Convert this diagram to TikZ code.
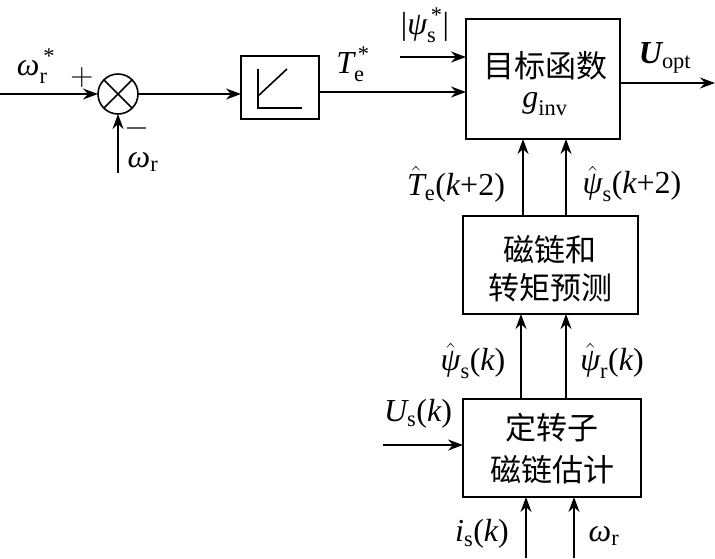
\documentclass[tikz,border=0pt]{standalone}
\usepackage{fix-cm}
\usepackage{amsmath}
\usepackage{fontspec}
\setmainfont{Liberation Serif}
\newfontfamily\cjk{Noto Sans CJK SC}
\usetikzlibrary{arrows.meta,calc}
\newcommand{\vi}[1]{\text{\itshape #1}}
\newcommand{\vu}[1]{\text{#1}}
\begin{document}
\begin{tikzpicture}[x=1pt,y=-1pt,
  line width=1.6pt,
  every node/.style={inner sep=0pt,outer sep=0pt,font=\fontsize{32}{38}\selectfont},
  blk/.style={draw,rectangle,line width=1.6pt},
  cjkt/.style={font=\cjk\fontsize{31}{36}\selectfont},
  arr/.style={-{Stealth[length=15pt,width=11pt]}}]
\useasboundingbox (0,0) rectangle (715,558);
% blocks
\node[draw,circle,minimum size=40pt] (sum) at (118,94) {};
\node[blk,minimum width=78pt,minimum height=63pt] (pi) at (280,87.5) {};
\node[blk,minimum width=154pt,minimum height=120pt] (obj) at (543,79) {};
\node[blk,minimum width=175pt,minimum height=98pt] (pred) at (550.5,265) {};
\node[blk,minimum width=178pt,minimum height=98pt] (est) at (552,448) {};
% sum cross
\draw ($(sum.center)+(-14.1,-14.1)$) -- ($(sum.center)+(14.1,14.1)$);
\draw ($(sum.center)+(-14.1,14.1)$) -- ($(sum.center)+(14.1,-14.1)$);
% PI symbol
\draw (258,69) -- (258,108) -- (302,108);
\draw (258,96) -- (287,69);
% free ends
\coordinate (in1) at (0,94);
\coordinate (wr) at (118,173);
\coordinate (psiin) at (400,57);
\coordinate (uout) at (715,83);
\coordinate (usin) at (383,445);
\coordinate (isin) at (526,558);
\coordinate (wrin) at (574,558);
% connectors
\draw[arr] (in1) -- (sum.west);
\draw[arr] (wr) -- (sum.south);
\draw[arr] (sum.east) -- (sum.east -| pi.west);
\draw[arr] (pi.east |- 0,92) -- (obj.west |- 0,92);
\draw[arr] (psiin) -- (psiin -| obj.west);
\draw[arr] (obj.east |- uout) -- (uout);
\draw[arr] (pred.north -| 523,0) -- (obj.south -| 523,0);
\draw[arr] (pred.north -| 566,0) -- (obj.south -| 566,0);
\draw[arr] (est.north -| 521,0) -- (pred.south -| 521,0);
\draw[arr] (est.north -| 566,0) -- (pred.south -| 566,0);
\draw[arr] (usin) -- (usin -| est.west);
\draw[arr] (isin) -- (isin |- est.south);
\draw[arr] (wrin) -- (wrin |- est.south);
% labels
\node (l1) at (36,66) {$\vi{ω}_{\vu{r}}^{\,\vu{*}}$};
\node (lp) at (82,77) {$+$};
\node (lm) at (137,128) {$-$};
\node (l2) at (143,162) {$\vi{ω}_{\vu{r}}$};
\node (l3) at (353,64) {$\vi{T}_{\vu{e}}^{\,\vu{*}}$};
\node (l4) at (425,25) {$\vu{|}\vi{ψ}_{\vu{s}}^{\,\vu{*}}\vu{|}$};
\node (l5) at (665,58) {$\text{\bfseries\itshape U}_{\vu{opt}}$};
\node[cjkt] (t1) at (545,66) {目标函数};
\node (t2) at (545,104) {$\vi{g}_{\vu{inv}}$};
\node (l6) at (456,184) {$\hat{\vi{T}}_{\vu{e}}\vu{(}\vi{k}\vu{+2)}$};
\node (l7) at (632,184) {$\hat{\vi{ψ}}_{\vu{s}}\vu{(}\vi{k}\vu{+2)}$};
\node[cjkt] (t3) at (550,250) {磁链和};
\node[cjkt] (t4) at (550,288) {转矩预测};
\node (l8) at (473,361) {$\hat{\vi{ψ}}_{\vu{s}}\vu{(}\vi{k}\vu{)}$};
\node (l9) at (612,361) {$\hat{\vi{ψ}}_{\vu{r}}\vu{(}\vi{k}\vu{)}$};
\node (l10) at (418,414) {$\vi{U}_{\vu{s}}\vu{(}\vi{k}\vu{)}$};
\node[cjkt] (t5) at (552,428) {定转子};
\node[cjkt] (t6) at (552,470) {磁链估计};
\node (l11) at (482,534) {$\vi{i}_{\vu{s}}\vu{(}\vi{k}\vu{)}$};
\node (l12) at (604,536) {$\vi{ω}_{\vu{r}}$};
\end{tikzpicture}
\end{document}
